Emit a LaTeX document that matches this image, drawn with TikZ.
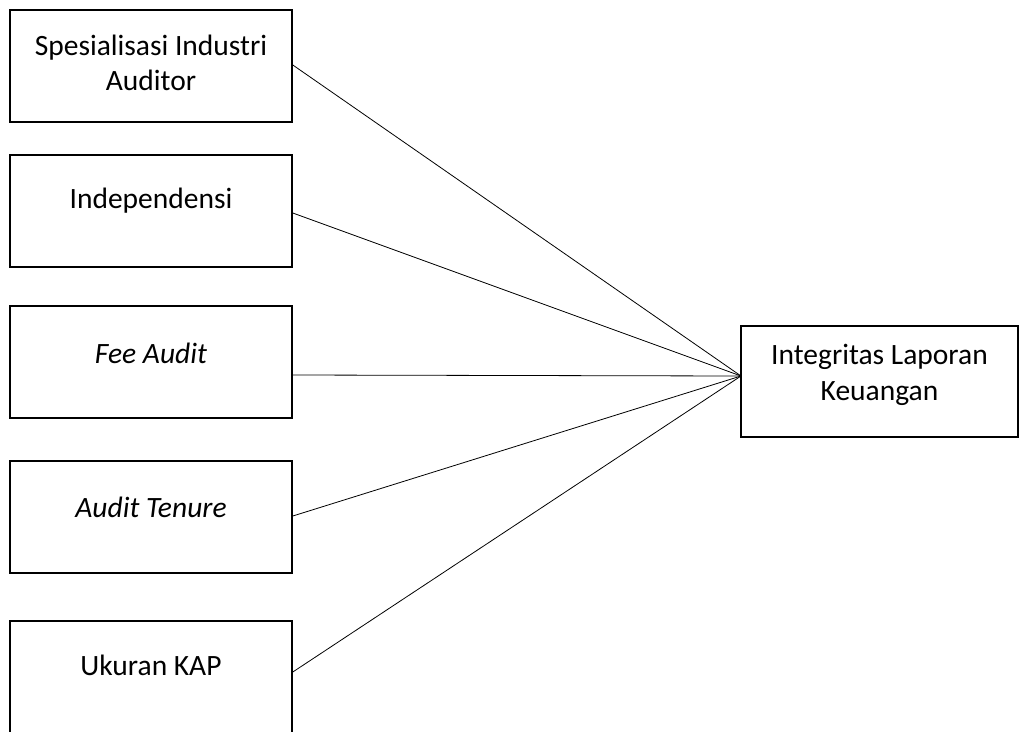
\documentclass[tikz,border=0pt]{standalone}
\usepackage{fontspec}
\setmainfont{Carlito}
\begin{document}
\begin{tikzpicture}[x=1pt,y=-1pt,
  box/.style={draw,line width=1.6pt,inner sep=0pt},
  lbl/.style={anchor=center,inner sep=0pt,align=center,font=\fontsize{29.5}{35.5}\selectfont},
  link/.style={line width=0.8pt}]
\useasboundingbox (0,0) rectangle (1019,731);
\clip (0,0) rectangle (1019,731);
% left boxes
\node[box,minimum width=282pt,minimum height=112pt] (b1) at (151,66) {};
\node[box,minimum width=282pt,minimum height=112pt] (b2) at (151,211) {};
\node[box,minimum width=282pt,minimum height=112pt] (b3) at (151,362) {};
\node[box,minimum width=282pt,minimum height=112pt] (b4) at (151,517) {};
\node[box,minimum width=282pt,minimum height=112pt] (b5) at (151,677) {};
\node[box,minimum width=277pt,minimum height=111pt] (y) at (879.5,381.5) {};
% labels
\node[lbl] (t1) at (151,63) {Spesialisasi Industri\\Auditor};
\node[lbl] (t2) at (151,201) {Independensi};
\node[lbl] (t3) at (151,353) {\itshape Fee Audit};
\node[lbl] (t4) at (151,507) {\itshape Audit Tenure};
\node[lbl] (t5) at (151,665) {Ukuran KAP};
\node[lbl] (ty) at (879.5,375) {Integritas Laporan\\Keuangan};
% connectors
\coordinate (c) at (741,376);
\draw[link] (b1.east |- 0,65) -- (c);
\draw[link] (b2.east |- 0,213) -- (c);
\draw[link] (b3.east |- 0,375) -- (c);
\draw[link] (b4.east |- 0,516) -- (c);
\draw[link] (b5.east |- 0,672) -- (c);
\end{tikzpicture}
\end{document}
